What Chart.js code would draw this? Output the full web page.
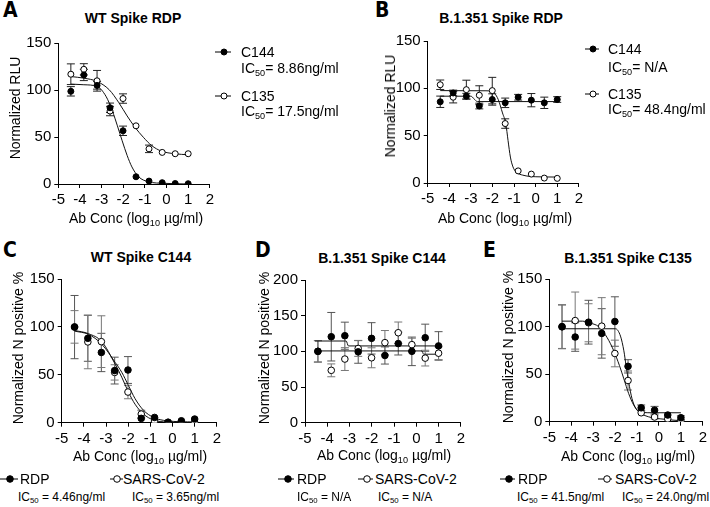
<!DOCTYPE html>
<html>
<head>
<meta charset="utf-8">
<script src="https://cdn.jsdelivr.net/npm/chart.js@4.4.1/dist/chart.umd.min.js"></script>
<style>
  html, body { margin: 0; padding: 0; background: #fff; overflow: hidden; }
  body { width: 710px; height: 507px; position: relative; font-family: "Liberation Sans", Arial, Helvetica, sans-serif; color: #000; }
  canvas { position: absolute; }
  .t { position: absolute; line-height: 1; white-space: nowrap; font-size: 14px; }
  .c { transform: translate(-50%, -50%); }
  .l { transform: translate(0, -50%); }
  .v { transform: translate(-50%, -50%) rotate(-90deg); }
  .b { font-weight: bold; }
  .let { font-family: "Liberation Sans Narrow", "DejaVu Sans Condensed", sans-serif; font-weight: bold; font-size: 21px; }
  .s { font-size: 12px; }
  sub { font-size: 65%; vertical-align: -0.3em; line-height: 0; }
  svg { position: absolute; overflow: visible; }
</style>
</head>
<body>
<canvas id="cA"></canvas>
<canvas id="cB"></canvas>
<canvas id="cC"></canvas>
<canvas id="cD"></canvas>
<canvas id="cE"></canvas>

<!-- panel letters -->
<div class="t l let" style="left:3px;top:10px">A</div>
<div class="t l let" style="left:375px;top:10px">B</div>
<div class="t l let" style="left:3px;top:250px">C</div>
<div class="t l let" style="left:255px;top:250px">D</div>
<div class="t l let" style="left:483px;top:250px">E</div>

<!-- titles -->
<div class="t c b" style="left:133px;top:18px">WT Spike RDP</div>
<div class="t c b" style="left:501px;top:18px">B.1.351 Spike RDP</div>
<div class="t c b" style="left:141px;top:257px">WT Spike C144</div>
<div class="t c b" style="left:382px;top:258px">B.1.351 Spike C144</div>
<div class="t c b" style="left:628px;top:258px">B.1.351 Spike C135</div>

<!-- y axis titles -->
<div class="t v" style="left:15px;top:108px">Normalized RLU</div>
<div class="t v" style="left:390px;top:106px">Normalized RLU</div>
<div class="t v" style="left:18px;top:348px">Normalized N positive %</div>
<div class="t v" style="left:264px;top:348px">Normalized N positive %</div>
<div class="t v" style="left:508px;top:347px">Normalized N positive %</div>

<!-- x axis titles -->
<div class="t c" style="left:136px;top:218px">Ab Conc (log<sub>10</sub> µg/ml)</div>
<div class="t c" style="left:505px;top:218px">Ab Conc (log<sub>10</sub> µg/ml)</div>
<div class="t c" style="left:140px;top:456px">Ab Conc (log<sub>10</sub> µg/ml)</div>
<div class="t c" style="left:384px;top:455px">Ab Conc (log<sub>10</sub> µg/ml)</div>
<div class="t c" style="left:628px;top:456px">Ab Conc (log<sub>10</sub> µg/ml)</div>

<!-- legend A -->
<svg style="left:215px;top:47px" width="16" height="10"><line x1="0" y1="5" x2="16" y2="5" stroke="#000"/><circle cx="9" cy="5" r="3" fill="#000" stroke="#000"/></svg>
<div class="t l" style="left:241px;top:52px">C144</div>
<div class="t l" style="left:241px;top:68px">IC<sub>50</sub>= 8.86ng/ml</div>
<svg style="left:215px;top:91px" width="16" height="10"><line x1="0" y1="5" x2="16" y2="5" stroke="#000"/><circle cx="9" cy="5" r="3" fill="#fff" stroke="#000"/></svg>
<div class="t l" style="left:241px;top:96px">C135</div>
<div class="t l" style="left:241px;top:111px">IC<sub>50</sub>= 17.5ng/ml</div>

<!-- legend B -->
<svg style="left:585px;top:44px" width="14" height="10"><line x1="0" y1="5" x2="14" y2="5" stroke="#000"/><circle cx="8" cy="5" r="3" fill="#000" stroke="#000"/></svg>
<div class="t l" style="left:608px;top:49px">C144</div>
<div class="t l" style="left:608px;top:67px">IC<sub>50</sub>= N/A</div>
<svg style="left:585px;top:89px" width="14" height="10"><line x1="0" y1="5" x2="14" y2="5" stroke="#000"/><circle cx="8" cy="5" r="3" fill="#fff" stroke="#000"/></svg>
<div class="t l" style="left:608px;top:94px">C135</div>
<div class="t l" style="left:608px;top:109px">IC<sub>50</sub>= 48.4ng/ml</div>

<!-- legend C -->
<svg style="left:0px;top:474px" width="18" height="10"><line x1="0" y1="5" x2="18" y2="5" stroke="#000"/><circle cx="10" cy="5" r="3.3" fill="#000" stroke="#000"/></svg>
<div class="t l" style="left:20px;top:479px">RDP</div>
<svg style="left:110px;top:474px" width="13" height="10"><line x1="0" y1="5" x2="13" y2="5" stroke="#000"/><circle cx="7" cy="5" r="3.3" fill="#fff" stroke="#000"/></svg>
<div class="t l" style="left:123px;top:479px">SARS-CoV-2</div>
<div class="t l s" style="left:18px;top:497px">IC<sub>50</sub> = 4.46ng/ml</div>
<div class="t l s" style="left:132px;top:497px">IC<sub>50</sub> = 3.65ng/ml</div>

<!-- legend D -->
<svg style="left:278px;top:474px" width="16" height="10"><line x1="0" y1="5" x2="16" y2="5" stroke="#000"/><circle cx="10" cy="5" r="3.3" fill="#000" stroke="#000"/></svg>
<div class="t l" style="left:297px;top:479px">RDP</div>
<svg style="left:358px;top:474px" width="15" height="10"><line x1="0" y1="5" x2="15" y2="5" stroke="#000"/><circle cx="9" cy="5" r="3.3" fill="#fff" stroke="#000"/></svg>
<div class="t l" style="left:375px;top:479px">SARS-CoV-2</div>
<div class="t l s" style="left:297px;top:497px">IC<sub>50</sub> = N/A</div>
<div class="t l s" style="left:378px;top:497px">IC<sub>50</sub> = N/A</div>

<!-- legend E -->
<svg style="left:500px;top:474px" width="15" height="10"><line x1="0" y1="5" x2="15" y2="5" stroke="#000"/><circle cx="9" cy="5" r="3.3" fill="#000" stroke="#000"/></svg>
<div class="t l" style="left:518px;top:479px">RDP</div>
<svg style="left:598px;top:474px" width="14" height="10"><line x1="0" y1="5" x2="14" y2="5" stroke="#000"/><circle cx="9" cy="5" r="3.3" fill="#fff" stroke="#000"/></svg>
<div class="t l" style="left:615px;top:479px">SARS-CoV-2</div>
<div class="t l s" style="left:517px;top:497px">IC<sub>50</sub> = 41.5ng/ml</div>
<div class="t l s" style="left:622px;top:497px">IC<sub>50</sub> = 24.0ng/ml</div>

<script>
// antibody doses, log10 ug/ml (4-fold dilutions)
const doses = [-4.42, -3.82, -3.21, -2.61, -2.01, -1.41, -0.81, -0.20, 0.40, 1.00];

// A: WT Spike RDP
const aC144 = [98.6, 116, 104.9, 81.1, 56.6, 7.7, 3.1, 1.4, 0.5, 0.3];
const aC144Err = [5, 6, 4, 5, 5, 0, 0, 0, 0, 0];
const aC135 = [116.8, 122, 109.8, 77.6, 90.9, 61.9, 37.4, 33.6, 32.2, 32.2];
const aC135Err = [11, 6, 11, 5, 5, 0, 4, 0, 0, 0];
const aC144FitX = [-4.42, -3.82, -3.21, -2.80, -2.50, -2.27, -2.05, -1.82, -1.60, -1.29, -0.84, -0.09, 1.0];
const aC144FitY = [106.3, 105.6, 103.8, 93.4, 77.6, 61.9, 46, 30.4, 18.2, 7.7, 2.4, 0.7, 0];
const aC135FitX = [-4.42, -3.82, -3.21, -2.65, -2.20, -1.82, -1.45, -1.07, -0.69, -0.24, 0.37, 1.0];
const aC135FitY = [114.3, 112.6, 109.1, 100.3, 86.4, 72.4, 60.1, 49.7, 40.9, 35, 32.2, 31.1];

// B: B.1.351 Spike RDP
const bC144 = [85.8, 95.1, 91.7, 81.3, 88.2, 84.7, 90.6, 87.5, 84.7, 88.2];
const bC144Err = [6, 3, 3, 3, 6, 5, 3, 7, 6, 3];
const bC135 = [103.8, 90.6, 98.6, 92.7, 97.6, 62.8, 12.8, 9.4, 5.2, 4.9];
const bC135Err = [5, 6, 10, 10, 14, 5, 0, 0, 0, 0];
const bC144FitX = [-4.42, -3.0, -2.85, -2.7, 1.0];
const bC144FitY = [91.7, 91.7, 88.8, 86, 86];
const bC135FitX = [-4.42, -2.3, -1.9, -1.73, -1.536, -1.384, -1.278, -1.17, -1.05, -0.9, -0.595, 0.01, 1.0];
const bC135FitY = [97.6, 97.4, 94.5, 88, 74, 62.8, 44.8, 27.4, 17, 11.5, 8.3, 6.6, 6.3];

// C: WT Spike C144
const cRDP = [99.8, 88.1, 73.3, 54.4, 55, 4.5, 5.5, 0.5, 2, 3.8];
const cRDPErr = [33, 24, 20, 14, 14, 0, 0, 0, 0, 0];
const cSARS = [100, 84.3, 84.6, 52.5, 32, 9, 1.7, 0.3, 0.2, 0.2];
const cSARSErr = [17, 28, 27, 8, 7, 4, 0, 0, 0, 0];
const cFitX = [-4.42, -3.79, -3.19, -2.59, -2.29, -1.99, -1.69, -1.31, -0.86, -0.26, 1.0];
const cRDPFitY = [95.6, 92.2, 81.9, 63, 52.6, 38.9, 25.1, 13, 5.5, 2, 0.7];
const cSARSFitY = [96.3, 92.9, 84.6, 61.2, 47.5, 32, 19.3, 9, 2.8, 0.7, 0];

// D: B.1.351 Spike C144
const dRDP = [100, 120.5, 121.9, 99.3, 118.2, 94.2, 110.9, 100, 119.1, 107.6];
const dRDPErr = [15, 34, 19, 16, 22, 12, 16, 20, 19, 20];
const dSARS = [100, 73.4, 89.2, 104, 91, 112.2, 126.1, 109.4, 90.5, 97.4];
const dSARSErr = [15, 9, 16, 11, 14, 17, 15, 9, 11, 9];
const dRDPFitX = [-4.55, -3.15, -3.05, 1.05];
const dRDPFitY = [114.5, 114.5, 107.6, 107.6];
const dSARSFitX = [-4.55, 0.25, 0.33, 1.05];
const dSARSFitY = [100.6, 100.6, 96, 96];

// E: B.1.351 Spike C135
const eRDP = [99.7, 89, 104.6, 92.8, 105.3, 58.2, 14.6, 12.1, 7, 4.2];
const eRDPErr = [23, 15, 23, 26, 26, 7, 3, 4, 0, 2];
const eSARS = [100, 106.3, 104, 100.4, 71.7, 43.3, 9.4, 4.9, 3, 0.5];
const eSARSErr = [23, 30, 20, 30, 14, 10, 0, 2, 0, 0];
const eRDPFitX = [-4.42, -1.98, -1.755, -1.60, -1.50, -1.38, -1.23, -1.05, -0.78, -0.3, 1.0];
const eRDPFitY = [97.7, 97.7, 90, 74.5, 58.9, 41.6, 24.3, 14, 9.8, 9.4, 9.4];
const eSARSFitX = [-4.42, -3.49, -3.19, -2.73, -2.36, -2.06, -1.80, -1.60, -1.38, -1.15, -0.93, -0.48, 0.28, 1.0];
const eSARSFitY = [105.7, 105.7, 104, 99.6, 88.3, 74.5, 58.9, 45, 29.5, 17.4, 10.5, 5.2, 2.5, 1];

const FONT = '"Liberation Sans", Arial, Helvetica, sans-serif';

const errorBars = {
  id: 'errorBars',
  beforeDatasetsDraw(chart) {
    const ctx = chart.ctx;
    const ys = chart.scales.y;
    chart.data.datasets.forEach((ds, i) => {
      if (!ds.errors) return;
      const meta = chart.getDatasetMeta(i);
      ctx.save();
      ctx.strokeStyle = ds.errColor || '#000';
      ctx.lineWidth = 1;
      meta.data.forEach((pt, j) => {
        const e = ds.errors[j];
        if (!e) return;
        const v = ds.data[j].y;
        const top = ys.getPixelForValue(v + e);
        const bot = ys.getPixelForValue(Math.max(v - e, 0));
        ctx.beginPath();
        ctx.moveTo(pt.x, top); ctx.lineTo(pt.x, bot);
        ctx.moveTo(pt.x - 4, top); ctx.lineTo(pt.x + 4, top);
        ctx.moveTo(pt.x - 4, bot); ctx.lineTo(pt.x + 4, bot);
        ctx.stroke();
      });
      ctx.restore();
    });
  }
};

function pts(xs, ys) { return xs.map((x, i) => ({ x: x, y: ys[i] })); }

function markers(vals, errs, filled, r, errColor) {
  return {
    data: pts(doses, vals), errors: errs, errColor: errColor,
    showLine: false, pointRadius: r, pointHoverRadius: r, pointBorderWidth: 1,
    pointBackgroundColor: filled ? '#000' : '#fff', pointBorderColor: '#000'
  };
}
function curve(xs, ys) {
  return {
    data: pts(xs, ys), showLine: true, pointRadius: 0, borderColor: '#111',
    borderWidth: 1, cubicInterpolationMode: 'monotone', fill: false
  };
}

function panel(id, box, yMax, datasets) {
  const cv = document.getElementById(id);
  const left = Math.floor(box.L) - 44, top = Math.floor(box.T) - 10;
  const right = Math.min(box.R + 6, 710), w = Math.ceil(right - left);
  const h = Math.ceil(box.B + 32 - top);
  cv.width = w; cv.height = h;
  cv.style.left = left + 'px'; cv.style.top = top + 'px';
  cv.style.width = w + 'px'; cv.style.height = h + 'px';
  const yW = box.L - left, xH = h - (box.B - top);
  const axis = (min, max, step) => ({
    type: 'linear', min: min, max: max,
    ticks: { stepSize: step, color: '#000', padding: 3, font: { size: 15, family: FONT } },
    grid: { drawOnChartArea: false, drawTicks: true, tickLength: 4, color: '#000', lineWidth: 1 },
    border: { display: true, color: '#000', width: 1 }
  });
  const xs = axis(-5, 2, 1); xs.afterFit = s => { s.height = xH; };
  const ysc = axis(0, yMax, 50); ysc.afterFit = s => { s.width = yW; };
  return new Chart(cv, {
    type: 'scatter',
    data: { datasets: datasets },
    options: {
      responsive: false, animation: false, devicePixelRatio: 1,
      layout: { padding: { left: 0, top: box.T - top, right: (left + w) - box.R, bottom: 0 } },
      scales: { x: xs, y: ysc },
      plugins: { legend: { display: false }, tooltip: { enabled: false } }
    },
    plugins: [errorBars]
  });
}

panel('cA', { L: 58.3, R: 210.5, T: 41, B: 184 }, 150, [
  markers(aC144, aC144Err, true, 3, '#222'),
  markers(aC135, aC135Err, false, 3, '#222'),
  curve(aC144FitX, aC144FitY),
  curve(aC135FitX, aC135FitY)
]);
panel('cB', { L: 427.7, R: 580, T: 39, B: 183 }, 150, [
  markers(bC144, bC144Err, true, 3, '#222'),
  markers(bC135, bC135Err, false, 3, '#222'),
  curve(bC144FitX, bC144FitY),
  curve(bC135FitX, bC135FitY)
]);
panel('cC', { L: 61.7, R: 217.3, T: 277.3, B: 422.7 }, 150, [
  markers(cRDP, cRDPErr, true, 3.3, '#555'),
  markers(cSARS, cSARSErr, false, 3.3, '#777'),
  curve(cFitX, cRDPFitY),
  curve(cFitX, cSARSFitY)
]);
panel('cD', { L: 305, R: 461.7, T: 278.3, B: 422.7 }, 200, [
  markers(dRDP, dRDPErr, true, 3.3, '#555'),
  markers(dSARS, dSARSErr, false, 3.3, '#777'),
  curve(dRDPFitX, dRDPFitY),
  curve(dSARSFitX, dSARSFitY)
]);
panel('cE', { L: 549.3, R: 705, T: 277.3, B: 421.7 }, 150, [
  markers(eRDP, eRDPErr, true, 3.3, '#555'),
  markers(eSARS, eSARSErr, false, 3.3, '#777'),
  curve(eRDPFitX, eRDPFitY),
  curve(eSARSFitX, eSARSFitY)
]);
</script>
</body>
</html>
